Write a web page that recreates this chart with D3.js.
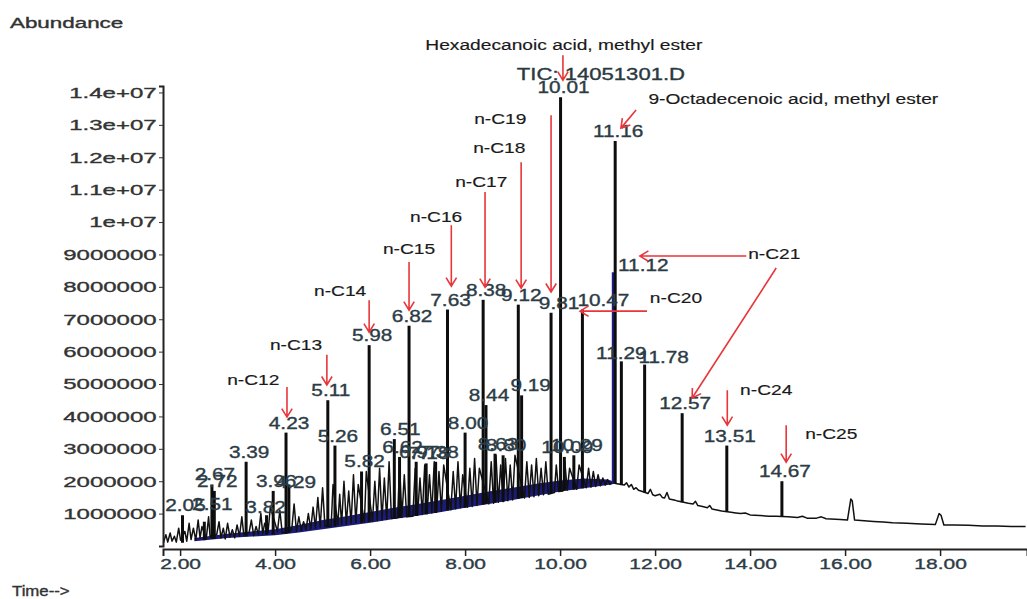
<!doctype html>
<html>
<head>
<meta charset="utf-8">
<title>TIC chromatogram</title>
<script src="https://cdn.jsdelivr.net/npm/d3@7"></script>
<style>
  body { margin: 0; background: #fff; }
  svg { display: block; font-family: "Liberation Sans", Arial, sans-serif; }
</style>
</head>
<body>
<svg id="chart" width="1027" height="599"></svg>
<script>
// values, abundance in millions
var yTickValues = [1,2,3,4,5,6,7,8,9,10,11,12,13,14];
var yTickLabels = ['1000000','2000000','3000000','4000000','5000000','6000000','7000000',
                   '8000000','9000000','1e+07','1.1e+07','1.2e+07','1.3e+07','1.4e+07'];
var xTickValues = [2,4,6,8,10,12,14,16,18];

// noisy trace (time, abundance) - unlabelled part of the signal
var trace = [
  [1.65,0.10],[1.70,0.35],[1.74,0.12],[1.79,0.40],[1.83,0.15],[1.88,0.30],[1.92,0.12],[1.97,0.55],
  [2.01,0.18],[2.10,0.45],[2.14,0.15],[2.19,0.70],[2.23,0.20],[2.28,0.55],[2.33,0.18],[2.38,0.80],
  [2.42,0.25],[2.46,0.60],[2.55,0.22],[2.60,0.90],[2.63,0.30],[2.77,0.35],[2.82,0.75],[2.86,0.25],
  [2.91,0.55],[2.95,0.22],[3.00,0.70],[3.05,0.28],[3.10,0.50],[3.15,0.25],[3.20,0.65],[3.25,0.30],
  [3.30,0.90],[3.34,0.35],[3.45,0.40],[3.50,0.80],[3.55,0.32],[3.60,0.60],[3.65,0.35],[3.70,1.00],
  [3.74,0.38],[3.78,0.70],[3.85,0.40],[3.90,1.20],[4.05,0.45],[4.10,1.10],[4.15,0.40],[4.35,0.50],
  [4.40,1.30],[4.45,0.45],[4.50,0.90],[4.55,0.48],[4.60,0.75],[4.65,0.50],[4.70,1.00],[4.75,0.52],
  [4.80,1.20],[4.85,0.55],[4.90,1.50],[4.95,0.58],[5.00,1.80],[5.05,0.60],[5.18,0.62],[5.22,1.90],
  [5.32,0.65],[5.36,1.60],[5.40,0.66],[5.45,2.00],[5.50,0.68],[5.55,1.70],[5.60,0.70],[5.65,2.20],
  [5.70,0.72],[5.75,1.90],[5.88,0.74],[5.92,2.30],[6.05,0.76],[6.10,2.00],[6.15,0.78],[6.20,2.40],
  [6.25,0.80],[6.30,2.10],[6.35,0.82],[6.40,2.60],[6.45,0.85],[6.58,0.87],[6.62,2.50],[6.67,0.88],
  [6.72,2.20],[6.77,0.90],[6.90,0.92],[6.95,2.40],[7.00,0.95],[7.05,2.10],[7.10,0.97],[7.15,2.50],
  [7.20,1.00],[7.25,2.20],[7.30,1.02],[7.35,2.60],[7.40,1.05],[7.45,2.30],[7.50,1.08],[7.55,2.50],
  [7.70,1.12],[7.75,2.30],[7.80,1.15],[7.85,2.60],[7.90,1.18],[7.95,2.20],[8.05,1.20],[8.10,2.40],
  [8.15,1.22],[8.20,2.70],[8.25,1.25],[8.30,2.40],[8.50,1.30],[8.55,2.60],[8.60,1.32],[8.65,2.80],
  [8.70,1.35],[8.75,2.50],[8.80,1.37],[8.85,2.70],[8.90,1.40],[8.95,2.50],[9.00,1.42],[9.05,2.80],
  [9.25,1.48],[9.30,2.60],[9.35,1.50],[9.40,2.50],[9.45,1.52],[9.50,2.70],[9.55,1.55],[9.60,2.40],
  [9.65,1.58],[9.70,2.60],[9.75,1.60],[9.88,1.65],[9.92,2.50],[9.97,1.68],[10.06,1.70],[10.10,2.60],
  [10.15,1.72],[10.20,2.40],[10.35,1.75],[10.40,2.50],[10.55,1.80],[10.60,2.40],[10.65,1.82],
  [10.70,2.30],[10.75,1.84],[10.80,2.20],[10.85,1.86],[10.90,2.10],[10.95,1.88],[11.00,2.05],
  [11.05,1.90],[11.10,1.95],[11.20,1.92],[11.35,1.88],[11.40,1.95],[11.45,1.82],[11.50,1.90],
  [11.55,1.75],[11.60,1.80],[11.65,1.72],[11.70,1.70],[11.85,1.62],[11.90,1.75],[11.95,1.58],
  [12.00,1.55],[12.10,1.60],[12.15,1.50],[12.20,1.48],[12.25,1.65],[12.30,1.45],[12.40,1.42],
  [12.45,1.40],[12.70,1.32],[12.80,1.30],[12.85,1.38],[12.90,1.25],[13.00,1.22],[13.10,1.18],
  [13.15,1.25],[13.20,1.14],[13.40,1.08],[13.60,1.04],[13.70,1.02],[13.80,1.00],[13.90,1.02],
  [14.00,0.96],[14.20,0.94],[14.40,0.92],[14.55,0.92],[14.80,0.90],[15.00,0.88],[15.10,0.92],
  [15.20,0.86],[15.40,0.86],[15.50,0.90],[15.60,0.84],[15.90,0.82],[16.05,0.80],[16.12,1.45],
  [16.15,1.40],[16.20,0.80],[16.40,0.78],[16.60,0.76],[16.80,0.74],[17.00,0.72],[17.30,0.70],
  [17.60,0.68],[17.90,0.66],[17.98,1.00],[18.02,0.95],[18.08,0.65],[18.30,0.65],[18.60,0.64],
  [18.90,0.62],[19.20,0.62],[19.50,0.60],[19.80,0.60]
];

// dark blue integration band under the noise: time, low, high
var band = [
  [2.30,0.15,0.25],[3.00,0.25,0.38],[4.00,0.33,0.52],[4.50,0.42,0.65],[5.00,0.52,0.80],
  [5.50,0.62,0.92],[6.00,0.72,1.05],[6.50,0.83,1.18],[7.00,0.93,1.30],[7.50,1.05,1.42],
  [8.00,1.18,1.55],[8.50,1.30,1.68],[9.00,1.42,1.80],[9.50,1.55,1.92],[10.00,1.68,2.02],
  [10.50,1.78,2.08],[11.00,1.88,2.05],[11.15,1.92,1.98]
];

// labelled peaks: retention time, foot, apex
var peaks = [
  [2.05,0.10,0.95],[2.51,0.18,0.75],[2.67,0.22,1.90],[2.72,0.22,1.70],[3.39,0.30,2.60],
  [3.82,0.35,0.95],[3.96,0.35,1.70],[4.23,0.38,3.50],[4.29,0.40,1.90],[5.11,0.58,4.50],
  [5.26,0.60,3.10],[5.82,0.72,2.30],[5.98,0.75,6.20],[6.51,0.85,3.30],[6.62,0.87,2.75],
  [6.82,0.90,6.80],[6.97,0.93,2.60],[7.18,0.98,2.55],[7.38,1.02,2.60],[7.63,1.10,7.30],
  [8.00,1.18,3.50],[8.38,1.28,7.60],[8.44,1.30,4.35],[8.63,1.34,2.85],[8.80,1.37,2.80],
  [9.12,1.46,7.45],[9.19,1.48,4.65],[9.81,1.63,7.20],[10.01,1.70,13.85],[10.09,1.71,2.75],
  [10.29,1.74,2.80],[10.47,1.78,7.30],[11.12,1.92,8.45],[11.16,1.93,12.50],[11.29,1.88,5.70],
  [11.78,1.66,5.60],[12.57,1.35,4.10],[13.51,1.06,3.10],[14.67,0.91,2.00]
];

// annotation texts: text, time, abundance
var notes = [
  ['n-C12',3.54,4.97],['n-C13',4.44,6.05],['n-C14',5.37,7.72],['n-C15',6.82,9.01],
  ['n-C16',7.39,10.0],['n-C17',8.34,11.08],['n-C18',8.72,12.13],['n-C19',8.74,13.02],
  ['n-C20',12.44,7.5],['n-C21',14.51,8.86],['n-C24',14.34,4.66],['n-C25',15.71,3.3],
  ['Hexadecanoic acid, methyl ester',10.08,15.31],['9-Octadecenoic acid, methyl ester',14.91,13.64]
];
// red arrows: from (t, v) to (t, v)
var arrows = [
  [4.25,4.91,4.25,3.98],[5.09,5.90,5.09,4.97],[5.98,7.59,5.98,6.60],[6.82,8.77,6.82,7.28],
  [7.71,9.90,7.71,8.02],[8.42,10.93,8.42,7.99],[9.18,11.85,9.18,7.96],[9.81,13.30,9.81,7.84],
  [10.06,15.15,10.06,14.38],[11.60,13.46,11.28,12.90],[13.92,8.95,11.68,8.95],
  [14.55,8.58,12.78,4.57],[11.83,7.25,10.42,7.25],[13.52,4.81,13.52,3.73],[14.76,3.73,14.76,2.59]
];
var fileLabel = 'TIC: 14051301.D';

// a few retention labels sit beside their peak in the original
var nudge = { '11.12': [27, 3], '10.47': [18, 0], '9.81': [5, 0], '11.78': [16, 2], '11.29': [-3, 2],
              '9.19': [6, 0], '3.82': [-4, 2], '4.29': [4, 8], '2.51': [5, -8], '6.51': [3, 0] };

var svg = d3.select('#chart');
var x = d3.scaleLinear().domain([1.64, 19.83]).range([163, 1027]);
var y = d3.scaleLinear().domain([0, 14.2]).range([546, 86]);

function stretched(g, txt, px, py, size, sx, anchor, fill) {
  return g.append('text')
      .attr('transform', 'translate(' + px + ',' + py + ') scale(' + sx + ',1)')
      .attr('text-anchor', anchor)
      .attr('font-size', size)
      .attr('fill', fill)
      .attr('stroke', fill)
      .attr('stroke-width', 0.35)
      .text(txt);
}

// blue band
svg.append('path')
    .datum(band)
    .attr('fill', '#1b1b78')
    .attr('d', d3.area()
        .x(function (d) { return x(d[0]); })
        .y0(function (d) { return y(d[1]); })
        .y1(function (d) { return y(d[2]); }));

// trace
svg.append('path')
    .datum(trace)
    .attr('fill', 'none')
    .attr('stroke', '#111')
    .attr('stroke-width', 1.5)
    .attr('stroke-linejoin', 'round')
    .attr('d', d3.line()
        .x(function (d) { return x(d[0]); })
        .y(function (d) { return y(d[1]); }));

// peaks
svg.append('g').selectAll('line')
    .data(peaks)
    .enter().append('line')
    .attr('x1', function (d) { return x(d[0]); })
    .attr('x2', function (d) { return x(d[0]); })
    .attr('y1', function (d) { return y(d[1]); })
    .attr('y2', function (d) { return y(d[2]); })
    .attr('stroke', function (d) { return d[0] === 11.12 ? '#1e1e86' : '#0d0d0d'; })
    .attr('stroke-width', 3);

// retention time labels
var lab = svg.append('g');
peaks.forEach(function (d) {
  var s = d[0].toFixed(2);
  var n = nudge[s] || [0, 0];
  stretched(lab, s, x(d[0]) + 3 + n[0], y(d[2]) - 4 + n[1], 16, 1.3, 'middle', '#2c3c46');
});
stretched(lab, fileLabel, x(10.86), y(14.38), 17, 1.3, 'middle', '#2a3840');

// axes
var xAxis = svg.append('g').attr('transform', 'translate(0,549)');
xAxis.call(d3.axisBottom(x).tickValues(d3.range(2, 19.7, 0.4)).tickSize(3).tickFormat(''));
xAxis.call(d3.axisBottom(x).tickValues(xTickValues).tickSize(7).tickFormat(d3.format('.2f')));
xAxis.selectAll('path.domain').attr('stroke', '#222').attr('stroke-width', 2);
xAxis.selectAll('line').attr('stroke', '#222').attr('stroke-width', 1.5);
xAxis.selectAll('text')
    .attr('font-size', 15).attr('font-family', '"Liberation Sans", Arial, sans-serif')
    .attr('fill', '#2c3c46').attr('stroke', '#2c3c46').attr('stroke-width', 0.35)
    .attr('y', 9).attr('transform', 'scale(1.4,1)');

var yAxis = svg.append('g').attr('transform', 'translate(163,0)');
yAxis.call(d3.axisLeft(y).tickValues(d3.range(0, 14.15, 0.1)).tickSize(3).tickFormat(''));
yAxis.call(d3.axisLeft(y).tickValues(yTickValues).tickSize(4)
    .tickFormat(function (d, i) { return yTickLabels[i]; }));
yAxis.selectAll('path.domain').attr('stroke', '#222').attr('stroke-width', 2);
yAxis.selectAll('line').attr('stroke', '#333').attr('stroke-width', 1);
yAxis.selectAll('text')
    .attr('font-size', 15).attr('font-family', '"Liberation Sans", Arial, sans-serif')
    .attr('fill', '#333').attr('stroke', '#333').attr('stroke-width', 0.35)
    .attr('x', -4).attr('transform', 'scale(1.6,1)');

stretched(svg, 'Abundance', 10, 28, 14, 1.6, 'start', '#333');
stretched(svg, 'Time-->', 12, 596, 14, 1.2, 'start', '#333');

// annotations
var ann = svg.append('g');
notes.forEach(function (d) {
  stretched(ann, d[0], x(d[1]), y(d[2]), 14, 1.37, 'middle', '#1a1a1a')
      .attr('stroke-width', 0.15);
});
arrows.forEach(function (a) {
  var x1 = x(a[0]), y1 = y(a[1]), x2 = x(a[2]), y2 = y(a[3]);
  var ang = Math.atan2(y2 - y1, x2 - x1), h = 10;
  var p = d3.path();
  p.moveTo(x1, y1); p.lineTo(x2, y2);
  p.moveTo(x2 - h * Math.cos(ang - 0.55), y2 - h * Math.sin(ang - 0.55));
  p.lineTo(x2, y2);
  p.lineTo(x2 - h * Math.cos(ang + 0.55), y2 - h * Math.sin(ang + 0.55));
  ann.append('path').attr('d', p.toString())
      .attr('fill', 'none').attr('stroke', '#e8363a').attr('stroke-width', 1.6);
});
</script>
</body>
</html>
